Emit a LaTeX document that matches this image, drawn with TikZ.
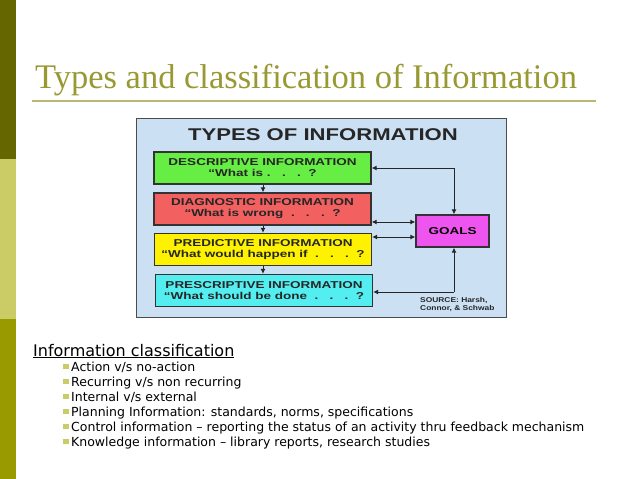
\documentclass[tikz,border=0pt]{standalone}
\usepackage{fontspec}
\usepackage{graphicx}
\setmainfont{Liberation Serif}
\newfontfamily\ver{DejaVu Sans}
\newfontfamily\arl{Liberation Sans}
\usetikzlibrary{arrows.meta}
\definecolor{olA}{HTML}{666600}
\definecolor{olB}{HTML}{CCCC66}
\definecolor{olC}{HTML}{999900}
\definecolor{ttl}{HTML}{999933}
\definecolor{bgb}{HTML}{CCE0F4}
\definecolor{gB}{HTML}{66EE44}
\definecolor{rB}{HTML}{F26060}
\definecolor{yB}{HTML}{FFF200}
\definecolor{cB}{HTML}{55EEF0}
\definecolor{mB}{HTML}{EE55EE}
\newcommand{\hs}[1]{\scalebox{1.35}[1]{#1}}
\tikzset{x=1pt,y=-1pt,
 ibox/.style={draw=black!80,line width=1.3pt,minimum width=217pt,minimum height=32pt,inner sep=0pt,align=center,font=\arl\bfseries\fontsize{10}{11}\selectfont,text=black!85},
 con/.style={-{Latex[length=5pt,width=5pt]},line width=1pt,black!85},
 dcon/.style={{Latex[length=5pt,width=5pt]}-{Latex[length=5pt,width=5pt]},line width=1pt,black!85},
 item/.style={anchor=base west,font=\ver\fontsize{12.5}{14}\selectfont,inner sep=0pt},
 bul/.style={fill=olB,minimum size=5.5pt,inner sep=0pt}}
\begin{document}
\begin{tikzpicture}
\useasboundingbox (0,0) rectangle (638,479);
\fill[white] (0,0) rectangle (638,479);
\fill[olA] (0,0) rectangle (16,159);
\fill[olB] (0,159) rectangle (16,319);
\fill[olC] (0,319) rectangle (16,479);
\node[anchor=base west,inner sep=0pt,text=ttl,font=\fontsize{34.5}{36}\selectfont] (title) at (35,88) {Types and classification of Information};
\draw[ttl!70,line width=1.2pt] (32,101) -- (596,101);
% diagram
\node[draw=black!70,fill=bgb,line width=1pt,minimum width=370pt,minimum height=199pt,inner sep=0pt,anchor=north west] (bg) at (136,118) {};
\node[font=\arl\bfseries\fontsize{17}{18}\selectfont,text=black!85] (tt) at (323,135) {\scalebox{1.3}[1]{TYPES OF INFORMATION}};
\node[ibox,fill=gB] (g) at (262.5,168) {\hs{DESCRIPTIVE INFORMATION}\\\hs{“What is~.~~~.~~~.~~?}};
\node[ibox,fill=rB] (r) at (262.5,209) {\hs{DIAGNOSTIC INFORMATION}\\\hs{“What is wrong~~.~~~.~~~.~~?}};
\node[ibox,fill=yB] (y) at (263,249.5) {\hs{PREDICTIVE INFORMATION}\\\hs{“What would happen if~~.~~~.~~~.~~?}};
\node[ibox,fill=cB] (c) at (264,290.5) {\hs{PRESCRIPTIVE INFORMATION}\\\hs{“What should be done~~.~~~.~~~.~~?}};
\node[draw=black!80,line width=1.3pt,fill=mB,minimum width=73pt,minimum height=32pt,inner sep=0pt,font=\arl\bfseries\fontsize{10}{11}\selectfont] (goals) at (452.5,231) {\hs{GOALS}};
\draw[con] (g.south -| 263,0) -- (r.north -| 263,0);
\draw[con] (r.south -| 263,0) -- (y.north -| 263,0);
\draw[con] (y.south -| 263,0) -- (c.north -| 263,0);
\coordinate (k1) at (454,168);
\coordinate (k2) at (454,292);
\draw[con] (k1) -- (g.east |- k1);
\draw[con] (k1) -- (goals.north -| k1);
\draw[dcon] (r.east |- 0,222) -- (goals.west |- 0,222);
\draw[dcon] (y.east |- 0,237) -- (goals.west |- 0,237);
\draw[con] (k2) -- (c.east |- k2);
\draw[con] (k2) -- (goals.south -| k2);
\node[anchor=north west,align=left,inner sep=0pt,font=\arl\bfseries\fontsize{7}{8}\selectfont,text=black!85] (src) at (420,297) {\scalebox{1.2}[1]{SOURCE: Harsh,}\\\scalebox{1.2}[1]{Connor, \& Schwab}};
% list
\node[anchor=base west,inner sep=0pt,font=\ver\fontsize{16}{18}\selectfont] (hd) at (33,356) {\underline{Information classification}};
\foreach \t [count=\i] in {Action v/s no-action,Recurring v/s non recurring,Internal v/s external,{Planning Information: standards, norms, specifications},Control information – reporting the status of an activity thru feedback mechanism,{Knowledge information – library reports, research studies}}{
 \node[bul] (b\i) at (66,{366.5+15*(\i-1)}) {};
 \node[item] (t\i) at (71,{371+15*(\i-1)}) {\t};
}
\end{tikzpicture}
\end{document}
